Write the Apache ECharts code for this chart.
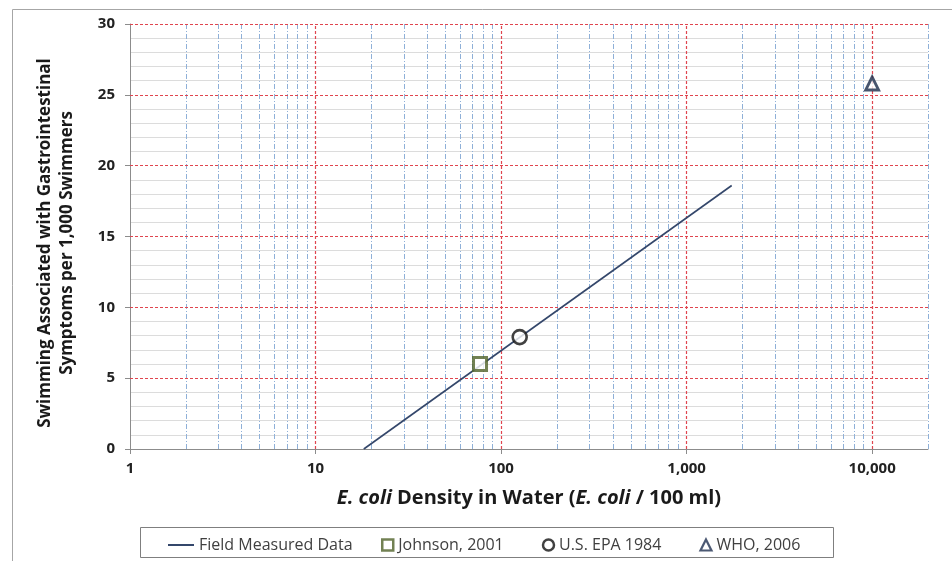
<!DOCTYPE html>
<html>
<head>
<meta charset="utf-8">
<script src="https://cdn.jsdelivr.net/npm/echarts@6/dist/echarts.min.js"></script>
<style>
  html, body { margin: 0; padding: 0; background: #fff; }
  #chart { width: 952px; height: 561px; }
</style>
</head>
<body>
<div id="chart"></div>
<script>
// data
var fieldX = [18.2, 1750];
var fieldY = [0, 18.6];
var johnson = [[77, 6]];
var usEpa = [[126, 7.9]];
var who = [[10000, 25.8]];

// grid positions (axis values)
var xMajor = [10, 100, 1000, 10000];
var xMinor = [2, 3, 4, 5, 6, 7, 8, 9, 20, 30, 40, 50, 60, 70, 80, 90,
  200, 300, 400, 500, 600, 700, 800, 900, 2000, 3000, 4000, 5000, 6000, 7000, 8000, 9000, 20000];
var yMajor = [5, 10, 15, 20, 25, 30];

var yTitle = 'Swimming Associated with Gastrointestinal\nSymptoms per 1,000 Swimmers';

var FONT = 'Open Sans';
var redLine = { color: '#e0454f', type: [3, 2], width: 1.2 };
var blueLine = { color: '#8fb0d8', type: [5, 2, 1, 2], width: 1 };

var myChar = echarts.init(document.getElementById('chart'));

var gridLines = [];
xMinor.forEach(function (v) { gridLines.push({ xAxis: v, lineStyle: blueLine }); });
xMajor.forEach(function (v) { gridLines.push({ xAxis: v, lineStyle: redLine }); });
yMajor.forEach(function (v) { gridLines.push({ yAxis: v, lineStyle: redLine }); });

var legendText = { fontFamily: FONT, fontSize: 16, color: '#404040' };

var myOption = {
  animation: false,
  textStyle: { fontFamily: FONT },
  graphic: [{
    type: 'rect', left: 10, top: 7,
    shape: { width: 960, height: 570 },
    style: { fill: 'none', stroke: '#a6a6a6', lineWidth: 1 },
    z: -10
  }, {
    type: 'rect', left: 140, top: 527,
    shape: { width: 693, height: 30 },
    style: { fill: '#fff', stroke: '#7f7f7f', lineWidth: 1 },
    z: -5
  }, {
    // y axis title, two lines, rotated
    type: 'text',
    x: 56, y: 243,
    rotation: Math.PI / 2,
    style: {
      text: yTitle,
      align: 'center',
      verticalAlign: 'middle',
      fontFamily: FONT, fontSize: 17, fontWeight: 'bold',
      lineHeight: 22,
      fill: '#1a1a1a'
    }
  }],
  grid: { left: 130, right: 24, top: 24, bottom: 112 },
  legend: [{
    data: [{ name: 'Field Measured Data', icon: 'rect', itemStyle: { color: '#34476b', borderWidth: 0 } }],
    left: 163, top: 532,
    itemWidth: 26, itemHeight: 2, itemGap: 30,
    textStyle: legendText
  }, {
    data: [
      { name: 'Johnson, 2001', itemStyle: { color: '#fff', borderColor: '#4f6228', borderWidth: 2.5 } },
      { name: 'U.S. EPA 1984', itemStyle: { color: '#fff', borderColor: '#111', borderWidth: 2.5 } },
      { name: 'WHO, 2006', itemStyle: { color: '#fff', borderColor: '#1f3050', borderWidth: 2.2 } }
    ],
    left: 376, top: 532,
    itemWidth: 11, itemHeight: 11, itemGap: 38,
    textStyle: legendText
  }],
  xAxis: {
    type: 'log',
    logBase: 10,
    min: 1,
    max: 20000,
    name: '{i|E. coli} Density in Water ({i|E. coli} / 100 ml)',
    nameLocation: 'middle',
    nameGap: 39,
    nameTextStyle: {
      fontFamily: FONT, fontSize: 20, fontWeight: 'bold', color: '#1a1a1a',
      rich: { i: { fontFamily: FONT, fontSize: 20, fontWeight: 'bold', fontStyle: 'italic', color: '#1a1a1a' } }
    },
    axisLine: { show: true, lineStyle: { color: '#8c8c8c', width: 1 } },
    axisTick: { show: true, length: 5, lineStyle: { color: '#8c8c8c' } },
    axisLabel: {
      margin: 12, fontSize: 15, fontWeight: 'bold', color: '#222',
      showMaxLabel: false,
      formatter: function (value) {
        return value > 10000 ? '' : Number(value).toLocaleString('en-US');
      }
    },
    splitLine: { show: false }
  },
  yAxis: {
    type: 'value',
    min: 0,
    max: 30,
    interval: 5,
    axisLine: { show: true, lineStyle: { color: '#8c8c8c', width: 1 } },
    axisTick: { show: true, length: 5, lineStyle: { color: '#8c8c8c' } },
    axisLabel: { margin: 15, fontSize: 15, fontWeight: 'bold', color: '#222' },
    splitLine: { show: false },
    minorTick: { show: false, splitNumber: 5 },
    minorSplitLine: { show: true, lineStyle: { color: '#dcdcdc', width: 1 } }
  },
  series: [{
    name: 'grid',
    type: 'line',
    data: [],
    silent: true,
    z: 1,
    markLine: {
      z: 1,
      silent: true,
      symbol: 'none',
      label: { show: false },
      emphasis: { disabled: true },
      animation: false,
      data: gridLines
    }
  }, {
    name: 'Field Measured Data',
    type: 'line',
    data: fieldX.map(function (x, i) { return [x, fieldY[i]]; }),
    showSymbol: false,
    symbol: 'none',
    lineStyle: { color: '#34476b', width: 1.6 },
    itemStyle: { color: '#34476b' },
    z: 3
  }, {
    name: 'Johnson, 2001',
    type: 'scatter',
    data: johnson,
    symbol: 'rect',
    symbolSize: 13,
    itemStyle: { color: '#fff', borderColor: '#4f6228', borderWidth: 3 },
    z: 4
  }, {
    name: 'U.S. EPA 1984',
    type: 'scatter',
    data: usEpa,
    symbol: 'circle',
    symbolSize: 14,
    itemStyle: { color: '#fff', borderColor: '#111', borderWidth: 2.6 },
    z: 4
  }, {
    name: 'WHO, 2006',
    type: 'scatter',
    data: who,
    symbol: 'triangle',
    symbolSize: 13,
    itemStyle: { color: '#fff', borderColor: '#1a2a48', borderWidth: 2.8 },
    z: 4
  }]
};
myChar.setOption(myOption);
</script>
</body>
</html>
